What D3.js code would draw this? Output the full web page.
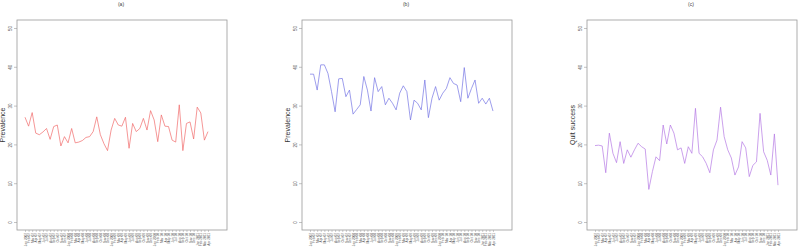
<!DOCTYPE html>
<html>
<head>
<meta charset="utf-8">
<script src="https://cdn.jsdelivr.net/npm/d3@7"></script>
<style>
  body { margin: 0; background: #fff; }
  svg { display: block; font-family: "Liberation Sans", Arial, sans-serif; }
</style>
</head>
<body>
<svg id="chart" width="798" height="248"></svg>
<script>
// months shown under each panel
var labels = [
  "Jan 2007","Feb 07","Mar 07","Apr 07","May 07","Jun 07","Jul 07","Aug 07","Sep 07","Oct 07","Nov 07","Dec 07",
  "Jan 2008","Feb 08","Mar 08","Apr 08","May 08","Jun 08","Jul 08","Aug 08","Sep 08","Oct 08","Nov 08","Dec 08",
  "Jan 2009","Feb 09","Mar 09","Apr 09","May 09","Jun 09","Jul 09","Aug 09","Sep 09","Oct 09","Nov 09","Dec 09",
  "Jan 2010","Feb 10","Mar 10","Apr 10","May 10","Jun 10","Jul 10","Aug 10","Sep 10","Oct 10","Nov 10","Dec 10",
  "Jan 2011","Feb 2011","Mar 2011","Apr 2011"
];

var seriesA = [27.0,24.7,28.2,22.9,22.5,23.2,24.1,21.3,24.6,25.0,19.6,22.0,20.4,24.1,20.4,20.6,21.0,21.8,22.0,23.3,
  27.1,22.5,20.2,18.4,23.7,26.7,25.0,24.7,27.0,19.0,25.4,23.3,24.1,26.7,23.7,28.7,26.3,20.7,27.6,24.7,
  24.6,21.1,20.6,30.2,18.4,25.4,25.8,21.4,29.6,28.1,21.1,23.3];

var seriesB = [38.1,38.1,34.0,40.5,40.5,38.3,33.6,28.4,36.9,37.0,32.3,34.0,27.8,29.0,30.2,37.5,34.0,28.6,37.2,33.6,
  34.9,30.2,31.9,30.6,28.9,33.2,35.1,33.6,26.3,31.4,30.6,28.9,36.6,26.9,31.9,34.9,31.4,33.2,34.4,37.2,
  35.7,35.3,31.0,39.8,31.9,34.4,36.6,30.6,31.9,30.4,31.9,28.6];

var seriesC = [19.7,19.8,19.6,12.7,22.9,17.7,15.3,20.7,15.1,18.6,16.7,18.6,20.3,19.4,18.8,8.4,13.0,16.8,15.8,25.0,
  20.1,25.0,22.9,18.6,19.1,15.1,19.4,17.7,29.3,17.7,16.8,15.1,12.7,18.6,21.1,29.6,22.0,18.6,16.5,12.1,
  14.2,20.7,19.1,11.7,14.6,15.5,28.0,18.1,15.9,12.1,22.7,9.5];

var yTicks = [0, 10, 20, 30, 40, 50];

var panels = [
  {title: "(a)", ylab: "Prevalence",   values: seriesA, color: "#f06a6a", left: 17},
  {title: "(b)", ylab: "Prevalence",   values: seriesB, color: "#7474e4", left: 302},
  {title: "(c)", ylab: "Quit success", values: seriesC, color: "#b478e4", left: 587}
];

var svg = d3.select("#chart");
var boxW = 210, boxTop = 20, boxBottom = 230;   // caja del grafico

var y = d3.scaleLinear().domain([-2.06, 52.06]).range([boxBottom, boxTop]);

panels.forEach(function (p) {
  var g = svg.append("g");
  var x = d3.scaleLinear().domain([-2.23, 56.3]).range([p.left, p.left + boxW]);

  // title
  g.append("text")
    .attr("x", p.left + 104).attr("y", 6)
    .attr("text-anchor", "middle")
    .attr("font-size", 5).attr("fill", "#444")
    .text(p.title);

  // frame
  g.append("rect")
    .attr("x", p.left).attr("y", boxTop)
    .attr("width", boxW).attr("height", boxBottom - boxTop)
    .attr("fill", "none").attr("stroke", "#9a9a9a").attr("stroke-width", 0.8);

  // y axis
  var ya = g.append("g")
    .attr("transform", "translate(" + p.left + ",0)")
    .call(d3.axisLeft(y).tickValues(yTicks).tickSize(3).tickPadding(2));
  ya.select(".domain").remove();
  ya.selectAll("line").attr("stroke", "#9a9a9a").attr("stroke-width", 0.6);
  ya.selectAll("text")
    .attr("font-size", 4.5).attr("fill", "#555")
    .attr("x", -7).attr("y", 0).attr("dy", 0)
    .attr("transform", "rotate(-90,-7,0)")
    .attr("text-anchor", "middle")
    .attr("dominant-baseline", "central");

  g.append("text")
    .attr("transform", "translate(" + (p.left - 12) + "," + 125 + ") rotate(-90)")
    .attr("text-anchor", "middle")
    .attr("font-size", 7).attr("fill", "#333")
    .text(p.ylab);

  // x axis
  var xa = g.append("g")
    .attr("transform", "translate(0," + boxBottom + ")")
    .call(d3.axisBottom(x).tickValues(d3.range(labels.length))
      .tickFormat(function (i) { return labels[i]; })
      .tickSize(2).tickPadding(1));
  xa.select(".domain").remove();
  xa.selectAll("line").attr("stroke", "#9a9a9a").attr("stroke-width", 0.5);
  xa.selectAll("text")
    .attr("font-size", 3.2).attr("fill", "#555")
    .attr("transform", "rotate(-90)")
    .attr("x", -3).attr("y", 0).attr("dy", "0.35em")
    .attr("text-anchor", "end");

  // series line
  var line = d3.line()
    .x(function (d, i) { return x(i); })
    .y(function (d) { return y(d); });

  g.append("path")
    .datum(p.values)
    .attr("d", line)
    .attr("fill", "none")
    .attr("stroke", p.color)
    .attr("stroke-width", 0.7);
});
</script>
</body>
</html>
